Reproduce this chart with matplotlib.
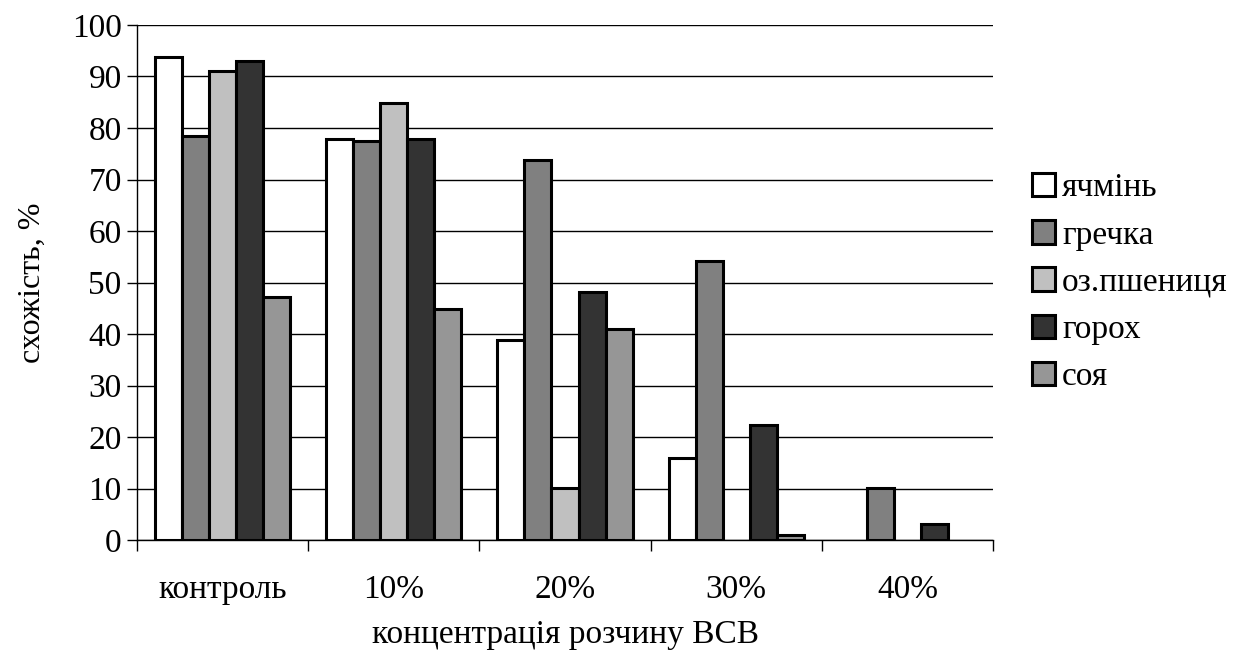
import matplotlib.pyplot as plt
import numpy as np

plt.rcParams['font.family'] = ['Liberation Serif', 'DejaVu Serif']

# data
groups = ["контроль", "10%", "20%", "30%", "40%"]
series = ["ячмінь", "гречка", "оз.пшениця", "горох", "соя"]
barley = [93.8, 77.8, 38.9, 16.0, 0.0]
buckwheat = [78.5, 77.4, 73.7, 54.1, 10.1]
wheat = [91.0, 84.9, 10.1, 0.0, 0.0]
peas = [93.0, 77.8, 48.1, 22.4, 3.1]
soy = [47.2, 44.8, 41.0, 0.9, 0.0]
colors = ["#ffffff", "#808080", "#c0c0c0", "#333333", "#969696"]

values = [barley, buckwheat, wheat, peas, soy]

fig = plt.figure(figsize=(12.48, 6.57), dpi=100)
ax = fig.add_axes([137/1248, 1-540/657, (993-137)/1248, (540-25)/657])

x = np.arange(len(groups))
w = 0.158
for j, vals in enumerate(values):
    v = np.array(vals, dtype=float)
    v[v == 0] = np.nan  # zero bars are not drawn in the original
    ax.bar(x + (j-2)*w, v, width=w, color=colors[j], edgecolor="black",
           linewidth=2.2, label=series[j], zorder=3)

ax.set_xlim(-0.5, 4.5)
ax.set_ylim(0, 100)
ax.set_yticks(range(0, 101, 10))
ax.yaxis.grid(True, color="black", linewidth=1, zorder=0)
ax.set_xticks(x)
ax.set_xticklabels(groups)
ax.set_xticks(np.arange(-0.5, 4.6, 1), minor=True)
ax.tick_params(axis="x", which="major", length=0, pad=25, labelsize=24)
ax.tick_params(axis="x", which="minor", length=8, width=1, direction="out")
ax.tick_params(axis="y", length=7, width=1, direction="out", labelsize=24, pad=4)
for s in ["top", "right"]:
    ax.spines[s].set_visible(False)
ax.spines["left"].set_linewidth(1)
ax.spines["bottom"].set_linewidth(1)

ax.set_xlabel("концентрація розчину ВСВ", fontsize=24, labelpad=10)
ax.set_ylabel("схожість, %", fontsize=23, labelpad=18)

ax.legend(loc="center left", bbox_to_anchor=(1.03, 0.5), frameon=False,
          fontsize=24, handlelength=0.7, handleheight=0.7, handletextpad=0.2,
          labelspacing=0.5, borderaxespad=0)

fig.savefig("out.png", dpi=100)
